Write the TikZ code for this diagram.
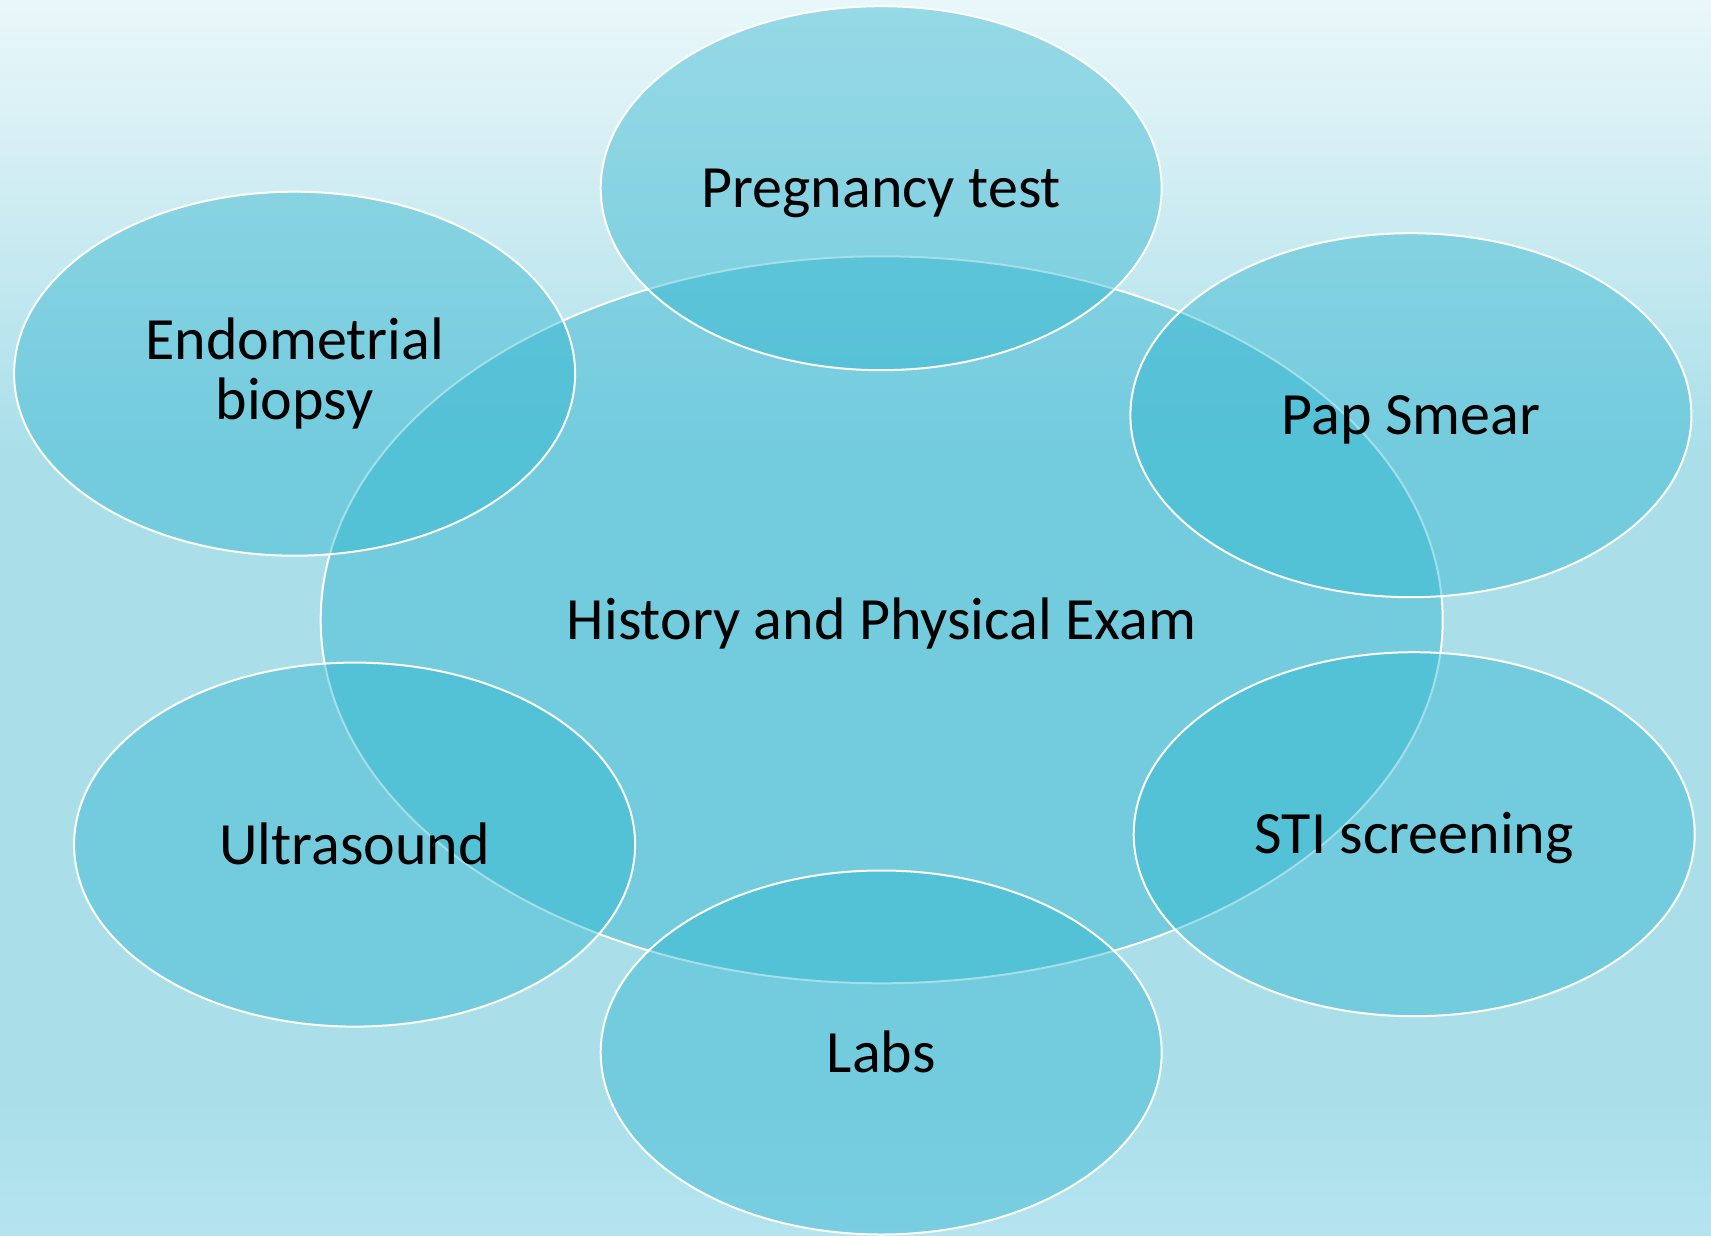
\documentclass[tikz,border=0pt]{standalone}
\usepackage{fontspec}
\setmainfont{Carlito}
\usetikzlibrary{shapes.geometric}
\definecolor{bgtop}{HTML}{E9F7FA}
\definecolor{bgup}{HTML}{D5EFF4}
\definecolor{bgmid}{HTML}{AADFEA}
\definecolor{bgbot}{HTML}{B5E4EF}
\definecolor{ovfill}{RGB}{43,179,206}
\pgfdeclareverticalshading{bgshade}{100bp}{color(0bp)=(bgbot); color(25bp)=(bgbot); color(30.5bp)=(bgmid); color(56.8bp)=(bgmid); color(68.9bp)=(bgup); color(75bp)=(bgtop); color(100bp)=(bgtop)}
\tikzset{
  oval/.style={ellipse, inner sep=0pt, fill=ovfill, fill opacity=0.43, text opacity=1,
    draw=white, line width=2pt, text=black, align=center,
    font=\fontsize{60}{60}\selectfont},
  sat/.style={oval, minimum width=561pt, minimum height=364pt},
  oneline/.style={text height=52pt, text depth=13pt},
}
\begin{document}
\begin{tikzpicture}[x=1pt,y=-1pt]
\useasboundingbox (0,0) rectangle (1711,1236);
\shade[shading=bgshade] (0,0) rectangle (1711,1236);
\node[oval, oneline, minimum width=1122pt, minimum height=727pt] (hp) at (881.7,619.8) {History and Physical Exam};
\node[sat, oneline] (preg) at (881.2,188.2) {Pregnancy test};
\node[sat] (endo) at (294.6,373.7) {Endometrial\\biopsy};
\node[sat, oneline] (pap) at (1410.9,415.2) {Pap Smear};
\node[sat, oneline] (sti) at (1414.2,834.2) {STI screening};
\node[sat, oneline] (labs) at (881.2,1052.5) {Labs};
\node[sat, oneline] (us) at (354.6,844.6) {Ultrasound};
\end{tikzpicture}
\end{document}
